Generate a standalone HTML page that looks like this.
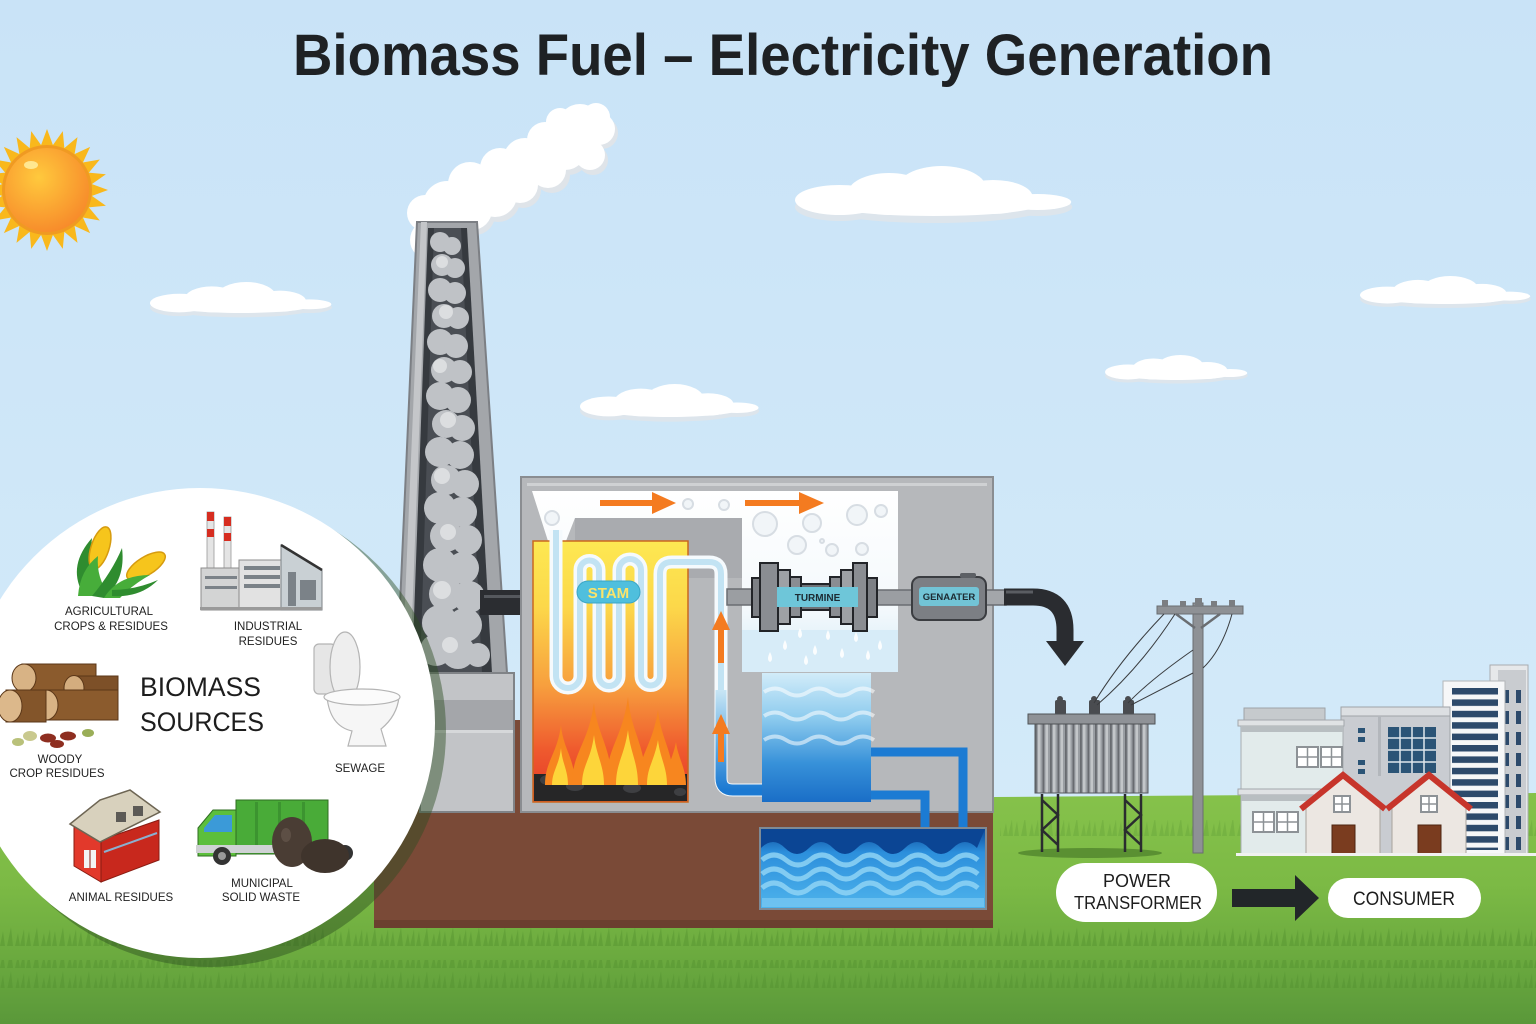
<!DOCTYPE html>
<html><head><meta charset="utf-8"><title>Biomass Fuel – Electricity Generation</title>
<style>html,body{margin:0;padding:0;background:#cde7f8}svg{display:block}</style></head>
<body>
<svg width="1536" height="1024" viewBox="0 0 1536 1024" xmlns="http://www.w3.org/2000/svg" font-family="'Liberation Sans', sans-serif">
<defs>
<linearGradient id="sky" x1="0" y1="0" x2="0" y2="1"><stop offset="0" stop-color="#c9e3f7"/><stop offset="1" stop-color="#d6ecfa"/></linearGradient>
<linearGradient id="grass" x1="0" y1="790" x2="0" y2="1024" gradientUnits="userSpaceOnUse"><stop offset="0" stop-color="#86c24b"/><stop offset="0.4" stop-color="#7cba45"/><stop offset="0.75" stop-color="#69a83e"/><stop offset="1" stop-color="#5a983a"/></linearGradient>
<radialGradient id="sunG" cx="0.4" cy="0.35" r="0.7"><stop offset="0" stop-color="#ffc93d"/><stop offset="1" stop-color="#f7892a"/></radialGradient>
<linearGradient id="boil" x1="0" y1="541" x2="0" y2="802" gradientUnits="userSpaceOnUse"><stop offset="0" stop-color="#fde852"/><stop offset="0.25" stop-color="#fcd84a"/><stop offset="0.55" stop-color="#f7a03e"/><stop offset="0.8" stop-color="#ef5a2e"/><stop offset="1" stop-color="#e33628"/></linearGradient>
<linearGradient id="cond" x1="0" y1="673" x2="0" y2="802" gradientUnits="userSpaceOnUse"><stop offset="0" stop-color="#d2ecf9"/><stop offset="0.35" stop-color="#8dcbee"/><stop offset="0.7" stop-color="#3791d9"/><stop offset="1" stop-color="#1a6ec7"/></linearGradient>
<linearGradient id="tank" x1="0" y1="828" x2="0" y2="909" gradientUnits="userSpaceOnUse"><stop offset="0" stop-color="#0b4797"/><stop offset="0.3" stop-color="#2c8fdc"/><stop offset="1" stop-color="#4fb4ec"/></linearGradient>
<linearGradient id="pipeB" x1="0" y1="690" x2="0" y2="790" gradientUnits="userSpaceOnUse"><stop offset="0" stop-color="#c8e6f5"/><stop offset="0.6" stop-color="#5aa6e0"/><stop offset="1" stop-color="#1b79d2"/></linearGradient>
<linearGradient id="steamCol" x1="0" y1="491" x2="0" y2="672" gradientUnits="userSpaceOnUse"><stop offset="0" stop-color="#ffffff"/><stop offset="0.65" stop-color="#f4f9fc"/><stop offset="1" stop-color="#d4ebf7"/></linearGradient>
<pattern id="fins" x="1035" y="0" width="7.5" height="100" patternUnits="userSpaceOnUse"><rect width="7.5" height="100" fill="#9a9ea3"/><rect width="1.8" height="100" fill="#686b70"/><rect x="3" width="2.5" height="100" fill="#c3c6c9"/></pattern>
<pattern id="stripes" x="1452" y="688" width="60" height="11.4" patternUnits="userSpaceOnUse"><rect width="46" height="6.5" fill="#2d4a6b"/></pattern>
<pattern id="bwin" x="1504" y="690" width="30" height="21" patternUnits="userSpaceOnUse"><rect width="5" height="13" fill="#2d4a6b"/><rect x="12" width="5" height="13" fill="#2d4a6b"/></pattern>
<pattern id="blades" x="0" y="0" width="26" height="22" patternUnits="userSpaceOnUse"><path d="M0,22 L3,7 L5,22 Z M7,22 L11,3 L13,22 Z M15,22 L18,9 L20,22 Z M20,22 L24,5 L25,22 Z" fill="#4f8f2e" opacity="0.4"/></pattern>
<g id="cloud">
<g fill="#dde5ec" transform="translate(0,5)"><ellipse cx="45" cy="36" rx="45" ry="14"/><ellipse cx="140" cy="38" rx="110" ry="14"/><ellipse cx="245" cy="36" rx="35" ry="9"/></g>
<g fill="#ffffff"><ellipse cx="45" cy="34" rx="45" ry="15"/><ellipse cx="95" cy="28" rx="42" ry="21"/><ellipse cx="148" cy="24" rx="46" ry="24"/><ellipse cx="200" cy="31" rx="40" ry="17"/><ellipse cx="245" cy="36" rx="34" ry="8"/><ellipse cx="140" cy="38" rx="108" ry="12"/></g>
</g>
<polygon id="ray" points="-7,-42 0,-61 7,-42" fill="#f9b81c"/>
</defs>

<!-- sky -->
<rect width="1536" height="1024" fill="url(#sky)"/>

<!-- sun -->
<g transform="translate(47,190)">
<use href="#ray"/><use href="#ray" transform="rotate(15)"/><use href="#ray" transform="rotate(30)"/><use href="#ray" transform="rotate(45)"/><use href="#ray" transform="rotate(60)"/><use href="#ray" transform="rotate(75)"/><use href="#ray" transform="rotate(90)"/><use href="#ray" transform="rotate(105)"/><use href="#ray" transform="rotate(120)"/><use href="#ray" transform="rotate(135)"/><use href="#ray" transform="rotate(150)"/><use href="#ray" transform="rotate(165)"/><use href="#ray" transform="rotate(180)"/><use href="#ray" transform="rotate(195)"/><use href="#ray" transform="rotate(210)"/><use href="#ray" transform="rotate(225)"/><use href="#ray" transform="rotate(240)"/><use href="#ray" transform="rotate(255)"/><use href="#ray" transform="rotate(270)"/><use href="#ray" transform="rotate(285)"/><use href="#ray" transform="rotate(300)"/><use href="#ray" transform="rotate(315)"/><use href="#ray" transform="rotate(330)"/><use href="#ray" transform="rotate(345)"/>
<circle r="45" fill="#f09a22"/>
<circle r="42" fill="url(#sunG)"/>
<ellipse cx="-16" cy="-25" rx="7" ry="4" fill="#fff3a8" opacity="0.8"/>
</g>

<!-- clouds -->
<use href="#cloud" transform="translate(795,166) scale(0.99,1)"/>
<use href="#cloud" transform="translate(150,282) scale(0.65,0.62)"/>
<use href="#cloud" transform="translate(580,384) scale(0.64,0.66)"/>
<use href="#cloud" transform="translate(1105,355) scale(0.51,0.5)"/>
<use href="#cloud" transform="translate(1360,276) scale(0.61,0.56)"/>

<!-- title -->
<text x="293" y="75" font-size="58" font-weight="bold" fill="#1e2124" textLength="980" lengthAdjust="spacingAndGlyphs">Biomass Fuel – Electricity Generation</text>

<!-- smoke plume -->
<g fill="#dfe4e9">
<circle cx="433" cy="244" r="20"/><circle cx="455" cy="236" r="18"/><circle cx="450" cy="210" r="24"/><circle cx="475" cy="215" r="20"/><circle cx="498" cy="200" r="22"/><circle cx="523" cy="190" r="18"/><circle cx="528" cy="165" r="22"/><circle cx="552" cy="175" r="18"/><circle cx="568" cy="153" r="22"/><circle cx="593" cy="160" r="15"/><circle cx="602" cy="133" r="16"/>
</g>
<g fill="#ffffff">
<circle cx="430" cy="240" r="20"/><circle cx="452" cy="232" r="18"/><circle cx="425" cy="213" r="18"/><circle cx="447" cy="205" r="24"/><circle cx="472" cy="210" r="20"/><circle cx="470" cy="184" r="22"/><circle cx="495" cy="195" r="22"/><circle cx="500" cy="168" r="20"/><circle cx="520" cy="185" r="18"/><circle cx="525" cy="160" r="22"/><circle cx="548" cy="170" r="18"/><circle cx="545" cy="140" r="18"/><circle cx="565" cy="148" r="22"/><circle cx="580" cy="126" r="22"/><circle cx="599" cy="129" r="16"/><circle cx="590" cy="155" r="15"/><circle cx="560" cy="122" r="14"/><circle cx="596" cy="117" r="14"/>
</g>

<!-- chimney -->
<polygon points="417,222 477,222 507,673 397,673" fill="#a3a6aa" stroke="#7c7f84" stroke-width="2"/>
<polygon points="421,222 427,222 410,673 402,673" fill="#c4c6c9"/>
<polygon points="428,228 467,228 492,673 412,673" fill="#363a3f"/>
<polygon points="434,228 461,228 482,673 420,673" fill="#4a4e54"/>
<g fill="#bfc2c6">
<circle cx="440" cy="242" r="10"/><circle cx="452" cy="246" r="9"/>
<circle cx="442" cy="265" r="11"/><circle cx="455" cy="268" r="10"/>
<circle cx="440" cy="290" r="12"/><circle cx="455" cy="293" r="11"/>
<circle cx="444" cy="316" r="12"/><circle cx="458" cy="318" r="11"/>
<circle cx="440" cy="342" r="13"/><circle cx="456" cy="346" r="12"/>
<circle cx="444" cy="370" r="13"/><circle cx="460" cy="372" r="12"/>
<circle cx="440" cy="396" r="14"/><circle cx="458" cy="400" r="13"/>
<circle cx="446" cy="424" r="14"/><circle cx="462" cy="428" r="13"/>
<circle cx="440" cy="452" r="15"/><circle cx="460" cy="455" r="14"/>
<circle cx="446" cy="480" r="15"/><circle cx="465" cy="484" r="14"/>
<circle cx="440" cy="508" r="16"/><circle cx="462" cy="512" r="15"/>
<circle cx="446" cy="536" r="16"/><circle cx="467" cy="540" r="15"/>
<circle cx="440" cy="565" r="17"/><circle cx="463" cy="568" r="16"/>
<circle cx="446" cy="594" r="17"/><circle cx="469" cy="597" r="16"/>
<circle cx="440" cy="623" r="18"/><circle cx="465" cy="625" r="17"/>
<circle cx="436" cy="650" r="16"/><circle cx="458" cy="652" r="17"/><circle cx="478" cy="655" r="12"/>
</g>
<g fill="#dcdee0">
<circle cx="442" cy="262" r="6"/><circle cx="446" cy="312" r="7"/><circle cx="440" cy="366" r="7"/><circle cx="448" cy="420" r="8"/><circle cx="442" cy="476" r="8"/><circle cx="448" cy="532" r="8"/><circle cx="442" cy="590" r="9"/><circle cx="450" cy="645" r="8"/>
</g>

<!-- grass -->
<path d="M0,842 L420,838 L995,797 L1536,793 L1536,1024 L0,1024 Z" fill="url(#grass)"/>
<rect x="0" y="925" width="1536" height="24" fill="url(#blades)"/>
<rect x="0" y="960" width="1536" height="28" fill="url(#blades)"/>
<rect x="1000" y="820" width="536" height="20" fill="url(#blades)" opacity="0.6"/>

<!-- brown base -->
<rect x="374" y="720" width="619" height="208" fill="#7a4a37"/>
<rect x="374" y="920" width="619" height="8" fill="#6b3f2f"/>

<!-- chimney base -->
<rect x="420" y="673" width="94" height="139" fill="#c2c4c7" stroke="#808387" stroke-width="2"/>
<rect x="421" y="700" width="92" height="30" fill="#a4a6aa"/>
<rect x="421" y="730" width="92" height="3" fill="#d6d8da"/>

<!-- pipe chimney to boiler -->
<rect x="480" y="590" width="54" height="25" fill="#2b2d31"/>
<rect x="484" y="595" width="46" height="3" fill="#55585d"/>

<!-- building -->
<rect x="521" y="477" width="472" height="335" fill="#b6b8bb" stroke="#8a8d91" stroke-width="2"/>
<rect x="527" y="483" width="460" height="3" fill="#cfd1d3"/>
<rect x="575" y="518" width="167" height="60" fill="#a9abaf"/>
<!-- steam area -->
<path d="M532,491 L898,491 L898,672 L742,672 L742,518 L575,518 L566,541 L548,541 Z" fill="url(#steamCol)"/>
<rect x="742" y="630" width="156" height="42" fill="#d7ecf8"/>
<g fill="#f1f5f8" stroke="#d7dde3" stroke-width="2">
<circle cx="552" cy="518" r="7"/><circle cx="688" cy="504" r="5"/><circle cx="724" cy="505" r="5"/><circle cx="765" cy="524" r="12"/><circle cx="812" cy="523" r="9"/><circle cx="857" cy="515" r="10"/><circle cx="881" cy="511" r="6"/><circle cx="797" cy="545" r="9"/><circle cx="832" cy="550" r="6"/><circle cx="862" cy="549" r="6"/><circle cx="822" cy="541" r="2"/>
</g>
<!-- orange steam arrows -->
<g fill="#f47b20">
<rect x="600" y="500" width="55" height="6"/><polygon points="652,492 676,503 652,514"/>
<rect x="745" y="500" width="57" height="6"/><polygon points="799,492 824,503 799,514"/>
</g>

<!-- boiler -->
<rect x="533" y="541" width="155" height="261" fill="url(#boil)" stroke="#c9681f" stroke-width="1.5"/>
<!-- serpentine pipe -->
<path d="M556,530 L556,676 A12,12 0 0 0 580,676 L580,570 A9.5,9.5 0 0 1 599,570 L599,676 A10,10 0 0 0 619,676 L619,570 A11,11 0 0 1 641,570 L641,676 A9.5,9.5 0 0 0 660,676 L660,574 Q660,562 672,562 L709,562 Q721,562 721,574 L721,778 Q721,790 733,790 L762,790" fill="none" stroke="#f5fafd" stroke-width="13" stroke-linejoin="round"/>
<path d="M556,530 L556,676 A12,12 0 0 0 580,676 L580,570 A9.5,9.5 0 0 1 599,570 L599,676 A10,10 0 0 0 619,676 L619,570 A11,11 0 0 1 641,570 L641,676 A9.5,9.5 0 0 0 660,676 L660,574 Q660,562 672,562 L709,562 Q721,562 721,574 L721,700" fill="none" stroke="#c2e3f3" stroke-width="6" stroke-linejoin="round"/>
<path d="M721,690 L721,778 Q721,790 733,790 L762,790" fill="none" stroke="url(#pipeB)" stroke-width="11"/>
<!-- STAM pill -->
<rect x="577" y="581" width="63" height="22" rx="11" fill="#4fbfdd" stroke="#3aa6c6" stroke-width="1"/>
<text x="608.5" y="598" font-size="15" font-weight="bold" fill="#fbe46a" text-anchor="middle">STAM</text>
<!-- coals -->
<rect x="534" y="774" width="153" height="27" fill="#262627"/>
<g fill="#3e3f42"><ellipse cx="548" cy="780" rx="8" ry="5"/><ellipse cx="575" cy="786" rx="9" ry="5"/><ellipse cx="604" cy="778" rx="8" ry="5"/><ellipse cx="632" cy="788" rx="9" ry="5"/><ellipse cx="660" cy="780" rx="8" ry="5"/><ellipse cx="680" cy="792" rx="6" ry="4"/></g>
<!-- flames -->
<g fill="#f7861f">
<path d="M545,785 C545,761 557,755 561,725 C563,749 575,758 575,785 Z"/>
<path d="M572,785 C572,752 588,745 594,703 C597,735 612,748 612,785 Z"/>
<path d="M606,785 C606,748 622,740 628,697 C631,733 646,745 646,785 Z"/>
<path d="M638,785 C638,755 652,748 658,710 C661,740 674,752 674,785 Z"/>
<path d="M665,785 C665,768 672,762 676,742 C678,758 686,768 686,785 Z"/>
</g>
<g fill="#fdd53a">
<path d="M552,785 C552,771 559,766 561,748 C562,763 568,770 568,785 Z"/>
<path d="M582,785 C582,765 591,760 594,735 C596,755 604,765 604,785 Z"/>
<path d="M616,785 C616,763 624,757 628,730 C630,752 638,762 638,785 Z"/>
<path d="M647,785 C647,767 654,762 658,740 C660,758 667,767 667,785 Z"/>
</g>
<!-- orange up arrows on pipe -->
<g fill="#f47b20">
<rect x="718" y="628" width="6" height="35"/><polygon points="712,630 721,611 730,630"/>
<rect x="718" y="732" width="6" height="30"/><polygon points="712,734 721,714 730,734"/>
</g>

<!-- condenser -->
<rect x="762" y="673" width="109" height="129" fill="url(#cond)"/>
<g fill="none" stroke="#ffffff" stroke-opacity="0.55" stroke-width="4">
<path d="M764,692 q11,-7 22,0 t22,0 t22,0 t22,0 t22,0"/>
<path d="M764,716 q11,-7 22,0 t22,0 t22,0 t22,0 t22,0"/>
<path d="M764,740 q11,-7 22,0 t22,0 t22,0 t22,0 t22,0"/>
</g>
<!-- drops -->
<g fill="#ffffff" opacity="0.9">
<path d="M785,640 q-4,8 0,10 q4,-2 0,-10Z"/><path d="M800,628 q-4,8 0,10 q4,-2 0,-10Z"/><path d="M815,645 q-4,8 0,10 q4,-2 0,-10Z"/><path d="M828,630 q-4,8 0,10 q4,-2 0,-10Z"/><path d="M842,648 q-4,8 0,10 q4,-2 0,-10Z"/><path d="M856,632 q-4,8 0,10 q4,-2 0,-10Z"/><path d="M770,652 q-4,8 0,10 q4,-2 0,-10Z"/><path d="M806,655 q-4,8 0,10 q4,-2 0,-10Z"/><path d="M868,650 q-4,8 0,10 q4,-2 0,-10Z"/><path d="M880,640 q-4,8 0,10 q4,-2 0,-10Z"/>
</g>
<!-- blue pipes to tank -->
<path d="M871,752 L963,752 L963,830" fill="none" stroke="#1c7bd3" stroke-width="9"/>
<path d="M871,795 L925,795 L925,830" fill="none" stroke="#1c7bd3" stroke-width="9"/>
<!-- bottom tank -->
<rect x="760" y="828" width="226" height="81" fill="url(#tank)" stroke="#7e8a96" stroke-width="2"/>
<path d="M761,848 q12,-12 24,0 t24,0 t24,0 t24,0 t24,0 t24,0 t24,0 t24,0 t24,0 L985,829 L761,829 Z" fill="#0b4594"/>
<g fill="none" stroke="#8fd3f5" stroke-width="5" stroke-opacity="0.85">
<path d="M762,860 q12,-10 24,0 t24,0 t24,0 t24,0 t24,0 t24,0 t24,0 t24,0 t24,0"/>
<path d="M762,874 q12,-10 24,0 t24,0 t24,0 t24,0 t24,0 t24,0 t24,0 t24,0 t24,0"/>
<path d="M762,888 q12,-10 24,0 t24,0 t24,0 t24,0 t24,0 t24,0 t24,0 t24,0 t24,0"/>
</g>
<rect x="762" y="898" width="222" height="9" fill="#7cc9f2" opacity="0.7"/>

<!-- shafts -->
<rect x="727" y="589" width="35" height="16" fill="#9b9ea2" stroke="#6a6d72" stroke-width="1.5"/>
<rect x="875" y="590" width="40" height="15" fill="#9b9ea2" stroke="#6a6d72" stroke-width="1.5"/>
<rect x="984" y="590" width="22" height="15" fill="#a3a6aa" stroke="#6a6d72" stroke-width="1.5"/>
<!-- turbine -->
<g stroke="#222428" stroke-width="2">
<rect x="752" y="578" width="10" height="39" fill="#7d8085"/>
<rect x="760" y="563" width="18" height="68" fill="#8a8d92"/>
<rect x="778" y="570" width="12" height="54" fill="#9ea1a5"/>
<rect x="790" y="577" width="11" height="40" fill="#8a8d92"/>
<rect x="801" y="584" width="29" height="26" fill="#6f7277"/>
<rect x="830" y="577" width="11" height="40" fill="#8a8d92"/>
<rect x="841" y="570" width="12" height="54" fill="#9ea1a5"/>
<rect x="853" y="563" width="14" height="68" fill="#8a8d92"/>
<rect x="867" y="578" width="10" height="39" fill="#7d8085"/>
</g>
<rect x="777" y="587" width="81" height="20" fill="#6ec6d9"/>
<text x="817.5" y="601" font-size="10" font-weight="bold" fill="#1d2b33" text-anchor="middle">TURMINE</text>
<!-- generator -->
<rect x="912" y="577" width="74" height="43" rx="8" fill="#7c7f84" stroke="#3b3d41" stroke-width="2"/>
<rect x="960" y="573" width="16" height="5" rx="2" fill="#5d6065"/>
<rect x="919" y="587" width="60" height="19" rx="3" fill="#72c4d6"/>
<text x="949" y="600" font-size="9.5" font-weight="bold" fill="#1d2b33" text-anchor="middle">GENAATER</text>
<!-- output arrow -->
<path d="M1004,597 L1033,597 Q1065,597 1065,630 L1065,645" fill="none" stroke="#2a2c30" stroke-width="17"/>
<path d="M1006,592 L1033,592" stroke="#5a5d62" stroke-width="3"/>
<polygon points="1046,641 1084,641 1065,666" fill="#2a2c30"/>

<!-- biomass circle -->
<circle cx="210" cy="731" r="236" fill="#2d4d22" opacity="0.45"/>
<circle cx="200" cy="723" r="235" fill="#ffffff"/>

<!-- corn -->
<g>
<path d="M82,592 Q68,565 92,538 Q88,565 102,592 Z" fill="#2f8c2f"/>
<ellipse cx="100" cy="548" rx="9" ry="22" transform="rotate(18 100 548)" fill="#f6c51c" stroke="#d69b0f" stroke-width="1.5"/>
<path d="M78,596 Q80,570 98,556 Q96,578 110,596 Z" fill="#47ad3a"/>
<path d="M92,596 Q112,572 122,548 Q126,580 104,598 Z" fill="#2f8c2f"/>
<ellipse cx="146" cy="566" rx="9" ry="22" transform="rotate(58 146 566)" fill="#f6c51c" stroke="#d69b0f" stroke-width="1.5"/>
<path d="M104,598 Q118,575 150,575 Q132,585 120,598 Z" fill="#47ad3a"/>
<path d="M112,590 Q135,590 158,580 Q140,598 112,596 Z" fill="#2f8c2f"/>
</g>
<!-- factory -->
<g>
<rect x="207" y="512" width="7" height="58" fill="#e4e4e4" stroke="#999" stroke-width="0.8"/>
<rect x="207" y="512" width="7" height="9" fill="#d62d20"/><rect x="207" y="529" width="7" height="8" fill="#d62d20"/>
<rect x="224" y="517" width="7" height="53" fill="#e4e4e4" stroke="#999" stroke-width="0.8"/>
<rect x="224" y="517" width="7" height="9" fill="#d62d20"/><rect x="224" y="533" width="7" height="8" fill="#d62d20"/>
<rect x="201" y="568" width="40" height="42" fill="#d3d4d4" stroke="#8c8c8c" stroke-width="1"/>
<rect x="239" y="560" width="45" height="50" fill="#e2e2e2" stroke="#8c8c8c" stroke-width="1"/>
<polygon points="281,545 322,570 322,610 281,610" fill="#c9d0d4" stroke="#7c8286" stroke-width="1"/>
<line x1="281" y1="545" x2="322" y2="570" stroke="#333" stroke-width="2.5"/>
<g fill="#7b8288"><rect x="244" y="566" width="36" height="4"/><rect x="244" y="575" width="36" height="4"/><rect x="244" y="584" width="36" height="4"/><rect x="205" y="576" width="32" height="3"/><rect x="205" y="586" width="32" height="3"/><rect x="288" y="572" width="8" height="34"/><rect x="300" y="580" width="16" height="20"/></g>
<rect x="200" y="607" width="122" height="3" fill="#9a9a9a"/>
</g>
<!-- toilet -->
<g>
<rect x="314" y="644" width="22" height="50" rx="5" fill="#e6e6e6" stroke="#b4b4b4" stroke-width="1.2"/>
<ellipse cx="345" cy="667" rx="15" ry="35" fill="#eeeeee" stroke="#b4b4b4" stroke-width="1.2"/>
<path d="M327,697 Q330,726 352,731 L348,746 L386,746 L381,729 Q397,716 399,697 Z" fill="#f6f6f6" stroke="#b4b4b4" stroke-width="1.2"/>
<ellipse cx="362" cy="697" rx="38" ry="8" fill="#fbfbfb" stroke="#b4b4b4" stroke-width="1.2"/>
</g>
<!-- logs -->
<g stroke="#5b3718" stroke-width="1">
<rect x="22" y="664" width="74" height="28" fill="#8b5b2d"/>
<ellipse cx="24" cy="678" rx="12" ry="14" fill="#d8b385"/>
<rect x="72" y="676" width="46" height="25" fill="#7d5028"/>
<ellipse cx="74" cy="688" rx="10" ry="12.5" fill="#d4ad7e"/>
<rect x="44" y="690" width="74" height="30" fill="#8b5b2d"/>
<ellipse cx="46" cy="705" rx="12" ry="15" fill="#d8b385"/>
<rect x="6" y="690" width="40" height="32" fill="#83552a"/>
<ellipse cx="10" cy="706" rx="12" ry="16" fill="#dcb88b"/>
</g>
<g><ellipse cx="30" cy="736" rx="7" ry="5" fill="#c9c98e"/><ellipse cx="48" cy="738" rx="8" ry="4.5" fill="#8e2e20"/><ellipse cx="68" cy="736" rx="8" ry="4.5" fill="#8e2e20"/><ellipse cx="57" cy="744" rx="7" ry="4" fill="#8e2e20"/><ellipse cx="18" cy="742" rx="6" ry="4" fill="#b9c17a"/><ellipse cx="88" cy="733" rx="6" ry="4" fill="#9aae58"/></g>
<!-- barn -->
<g>
<polygon points="74,822 101,840 101,882 74,866" fill="#e2392b" stroke="#8a1c12" stroke-width="1"/>
<polygon points="101,840 159,820 159,860 101,882" fill="#c8281d" stroke="#8a1c12" stroke-width="1"/>
<polygon points="70,824 100,800 130,790 160,812 100,842" fill="#d8d1bd" stroke="#6d6553" stroke-width="1.5"/>
<rect x="116" y="812" width="10" height="10" fill="#5c5a56"/><rect x="133" y="806" width="10" height="10" fill="#5c5a56"/>
<rect x="84" y="850" width="12" height="18" fill="#f4f4f4"/><line x1="90" y1="850" x2="90" y2="868" stroke="#8a1c12"/>
<line x1="104" y1="852" x2="157" y2="833" stroke="#8ab0d0" stroke-width="2"/>
</g>
<!-- truck -->
<g>
<polygon points="198,828 213,810 236,810 236,856 198,856" fill="#5cbf3c" stroke="#2f6e22" stroke-width="1"/>
<polygon points="204,828 215,815 232,815 232,832 204,832" fill="#3b9ad8"/>
<rect x="236" y="800" width="92" height="54" fill="#49ab38" stroke="#2f6e22" stroke-width="1"/>
<g fill="#3c9430"><rect x="255" y="802" width="3" height="50"/><rect x="278" y="802" width="3" height="50"/><rect x="302" y="802" width="3" height="50"/></g>
<rect x="196" y="845" width="140" height="8" fill="#cfd2d4"/>
<circle cx="222" cy="856" r="9" fill="#333"/><circle cx="222" cy="856" r="4" fill="#999"/>
<circle cx="345" cy="853" r="8" fill="#333"/>
<ellipse cx="292" cy="842" rx="20" ry="25" fill="#4a3d34"/>
<ellipse cx="325" cy="856" rx="24" ry="17" fill="#3f342c"/>
<ellipse cx="286" cy="835" rx="5" ry="7" fill="#6b5c51" opacity="0.6"/>
</g>
<!-- circle labels -->
<g font-size="11.5" fill="#222" text-anchor="middle">
<text x="109" y="615">AGRICULTURAL</text><text x="111" y="630">CROPS &amp; RESIDUES</text>
<text x="268" y="630">INDUSTRIAL</text><text x="268" y="645">RESIDUES</text>
<text x="360" y="772">SEWAGE</text>
<text x="60" y="763">WOODY</text><text x="57" y="777">CROP RESIDUES</text>
<text x="121" y="901">ANIMAL RESIDUES</text>
<text x="262" y="887">MUNICIPAL</text><text x="261" y="901">SOLID WASTE</text>
</g>
<text x="140" y="696" font-size="27" fill="#1d1d1d" textLength="121" lengthAdjust="spacingAndGlyphs">BIOMASS</text>
<text x="140" y="731" font-size="27" fill="#1d1d1d" textLength="124" lengthAdjust="spacingAndGlyphs">SOURCES</text>

<!-- transformer -->
<ellipse cx="1090" cy="853" rx="72" ry="5" fill="#5a9032"/>
<g fill="#4a4c50">
<rect x="1055" y="700" width="11" height="15" rx="2"/><rect x="1089" y="700" width="11" height="15" rx="2"/><rect x="1123" y="700" width="11" height="15" rx="2"/>
<circle cx="1060" cy="699" r="3"/><circle cx="1094" cy="699" r="3"/><circle cx="1128" cy="699" r="3"/>
</g>
<rect x="1035" y="723" width="113" height="70" fill="url(#fins)" stroke="#55585c" stroke-width="1"/>
<rect x="1028" y="714" width="127" height="10" fill="#8f9297" stroke="#4f5256" stroke-width="1"/>
<g stroke="#2a2c2f" stroke-width="2.5" fill="none">
<path d="M1042,794 L1042,852 M1058,794 L1058,852 M1042,800 L1058,815 L1042,830 L1058,845"/>
<path d="M1125,794 L1125,852 M1141,794 L1141,852 M1125,800 L1141,815 L1125,830 L1141,845"/>
</g>
<!-- pole -->
<rect x="1193" y="603" width="10" height="250" fill="#8e9195" stroke="#6a6d71" stroke-width="1"/>
<rect x="1157" y="606" width="86" height="8" fill="#8e9195" stroke="#6a6d71" stroke-width="1"/>
<path d="M1176,614 L1195,628 M1220,614 L1201,628" stroke="#6a6d71" stroke-width="2.5"/>
<g fill="#7b7e82"><rect x="1162" y="600" width="6" height="7"/><rect x="1180" y="601" width="6" height="6"/><rect x="1195" y="598" width="7" height="9"/><rect x="1211" y="601" width="6" height="6"/><rect x="1229" y="600" width="6" height="7"/></g>
<g fill="none" stroke="#3a3c3f" stroke-width="1">
<path d="M1164,614 Q1120,660 1094,703"/>
<path d="M1175,614 Q1140,668 1097,705"/>
<path d="M1193,650 Q1150,680 1128,703"/>
<path d="M1232,614 Q1222,650 1203,668"/>
<path d="M1193,673 Q1160,690 1131,705"/>
</g>

<!-- buildings -->
<rect x="1490" y="665" width="38" height="190" fill="#e6e8ea" stroke="#a9acb0" stroke-width="1"/>
<rect x="1498" y="670" width="28" height="185" fill="#c9ccd0"/>
<rect x="1504" y="690" width="20" height="160" fill="url(#bwin)"/>
<rect x="1443" y="681" width="62" height="174" fill="#f6f7f8" stroke="#b3b6b9" stroke-width="1"/>
<rect x="1452" y="688" width="46" height="162" fill="url(#stripes)"/>
<rect x="1341" y="707" width="109" height="148" fill="#c9ccd1" stroke="#9fa3a8" stroke-width="1"/>
<rect x="1341" y="707" width="109" height="9" fill="#dcdfe2" stroke="#9fa3a8" stroke-width="1"/>
<rect x="1378" y="716" width="3" height="60" fill="#b3b7bc"/>
<rect x="1388" y="727" width="48" height="46" fill="#2b5476"/>
<g stroke="#dfe6ec" stroke-width="1.5"><path d="M1400,727 V773 M1412,727 V773 M1424,727 V773 M1388,738 H1436 M1388,750 H1436 M1388,762 H1436"/></g>
<g fill="#2b5476"><rect x="1358" y="728" width="7" height="5"/><rect x="1358" y="737" width="7" height="5"/><rect x="1358" y="760" width="7" height="5"/><rect x="1358" y="769" width="7" height="5"/></g>
<!-- left building -->
<rect x="1244" y="708" width="81" height="12" fill="#c6cacd" stroke="#9fa3a8" stroke-width="1"/>
<rect x="1238" y="720" width="106" height="6" fill="#dfe2e4" stroke="#a3a7ab" stroke-width="1"/>
<rect x="1241" y="726" width="102" height="129" fill="#e2ebeb" stroke="#a8adb0" stroke-width="1"/>
<rect x="1241" y="726" width="102" height="6" fill="#b8bec1"/>
<rect x="1238" y="789" width="106" height="6" fill="#dfe2e4" stroke="#a3a7ab" stroke-width="1"/>
<rect x="1241" y="795" width="102" height="6" fill="#b8bec1"/>
<g fill="#ffffff" stroke="#8d9296" stroke-width="2">
<rect x="1297" y="747" width="21" height="20"/><rect x="1321" y="747" width="21" height="20"/>
<rect x="1253" y="812" width="21" height="20"/><rect x="1277" y="812" width="21" height="20"/>
</g>
<g stroke="#8d9296" stroke-width="1.5"><path d="M1307.5,747 V767 M1297,757 H1318 M1331.5,747 V767 M1321,757 H1342 M1263.5,812 V832 M1253,822 H1274 M1287.5,812 V832 M1277,822 H1298"/></g>
<!-- houses -->
<g>
<polygon points="1306,806 1343,777 1380,806 1380,855 1306,855" fill="#ece7e2" stroke="#a9a39c" stroke-width="1"/>
<polyline points="1301,809 1343,775 1385,809" fill="none" stroke="#c7352b" stroke-width="6"/>
<rect x="1334" y="796" width="16" height="16" fill="#fff" stroke="#8d9296" stroke-width="2"/>
<path d="M1342,796 V812 M1334,804 H1350" stroke="#8d9296" stroke-width="1.5"/>
<rect x="1332" y="825" width="23" height="30" fill="#7a3c1f" stroke="#4d2410" stroke-width="1"/>
<polygon points="1392,806 1429,777 1466,806 1466,855 1392,855" fill="#ece7e2" stroke="#a9a39c" stroke-width="1"/>
<polyline points="1387,809 1429,775 1471,809" fill="none" stroke="#c7352b" stroke-width="6"/>
<rect x="1421" y="796" width="16" height="16" fill="#fff" stroke="#8d9296" stroke-width="2"/>
<path d="M1429,796 V812 M1421,804 H1437" stroke="#8d9296" stroke-width="1.5"/>
<rect x="1418" y="825" width="23" height="30" fill="#7a3c1f" stroke="#4d2410" stroke-width="1"/>
</g>
<rect x="1236" y="853" width="300" height="3" fill="#f0f2f0"/>

<!-- labels right -->
<rect x="1056" y="863" width="161" height="59" rx="29.5" fill="#ffffff"/>
<text x="1137" y="887" font-size="18" fill="#1d1d1d" text-anchor="middle">POWER</text>
<text x="1138" y="909" font-size="18" fill="#1d1d1d" text-anchor="middle" textLength="128" lengthAdjust="spacingAndGlyphs">TRANSFORMER</text>
<polygon points="1232,889 1295,889 1295,875 1319,898 1295,921 1295,907 1232,907" fill="#222629"/>
<rect x="1328" y="878" width="153" height="40" rx="20" fill="#ffffff"/>
<text x="1404" y="905" font-size="19" fill="#1d1d1d" text-anchor="middle" textLength="102" lengthAdjust="spacingAndGlyphs">CONSUMER</text>
</svg>
</body></html>
